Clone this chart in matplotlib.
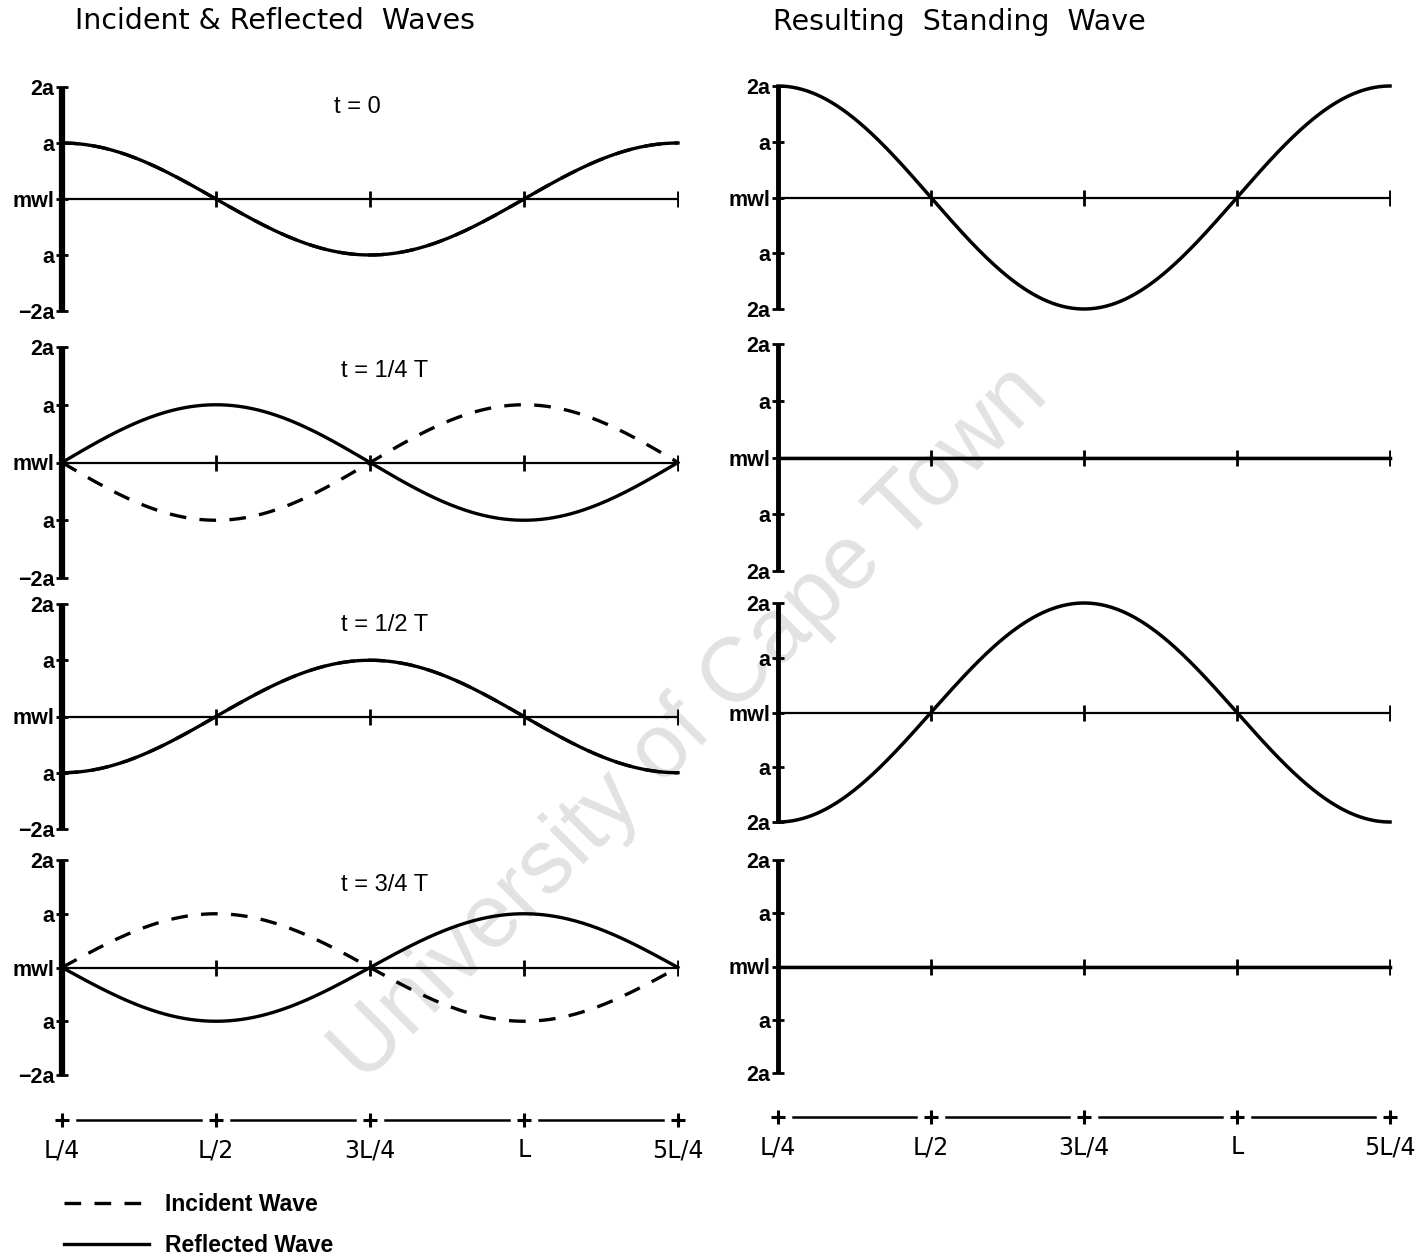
import numpy as np
import matplotlib
matplotlib.use("Agg")
import matplotlib.pyplot as plt

plt.rcParams['font.family'] = ['Liberation Sans', 'DejaVu Sans']

# ---------------- data ----------------
x_ticks = [0.25, 0.5, 0.75, 1.0, 1.25]          # in units of wavelength L
x_labels = ['L/4', 'L/2', '3L/4', 'L', '5L/4']
times = [0.0, 0.25, 0.5, 0.75]                    # fraction of period T
time_labels = ['t = 0', 't = 1/4 T', 't = 1/2 T', 't = 3/4 T']
amplitude = 1.0                                   # a
y_ticks = [2, 1, 0, -1, -2]
y_labels_left = ['2a', 'a', 'mwl', 'a', '\u22122a']
y_labels_right = ['2a', 'a', 'mwl', 'a', '2a']
titles = ['Incident & Reflected  Waves', 'Resulting  Standing  Wave']
legend_labels = ['Incident Wave', 'Reflected Wave']

# ---------------- figure ----------------
W, H = 1425, 1257
fig = plt.figure(figsize=(W / 100, H / 100), dpi=100)
fig.patch.set_facecolor('white')


def rect(left, right, top, bottom):
    return [left / W, 1 - bottom / H, (right - left) / W, (bottom - top) / H]


cols = [(62, 678), (778, 1390)]
rows_left = [(87, 311), (347, 578), (604, 829), (860, 1075)]
rows_right = [(86, 309), (344, 571), (603, 822), (860, 1073)]
label_pos = [(0.48, 0.91), (0.523, 0.896), (0.523, 0.907), (0.523, 0.884)]

x = np.linspace(x_ticks[0], x_ticks[-1], 500)
theta = 2 * np.pi * (x - x_ticks[0])

dash = (0, (5.0, 4.0))
handles = []


def style_axes(ax, labels, spine_lw):
    ax.set_xlim(x_ticks[0], x_ticks[-1])
    ax.set_ylim(-2, 2)
    ax.set_facecolor('none')
    for s in ['top', 'right', 'bottom']:
        ax.spines[s].set_visible(False)
    ax.spines['left'].set_linewidth(spine_lw)
    ax.spines['left'].set_capstyle('butt')
    ax.set_xticks([])
    ax.set_yticks(y_ticks)
    ax.set_yticklabels(labels, fontsize=15.5, fontweight='bold')
    ax.tick_params(axis='y', direction='inout', length=9, width=2, pad=1)
    ax.axhline(0, color='black', lw=1.6, zorder=2)
    ax.plot(x_ticks[1:], np.zeros(len(x_ticks) - 1), ls='none', marker='|',
            ms=11, mew=2, color='black', zorder=3)


for i, t in enumerate(times):
    inc = np.round(amplitude * np.cos(theta + 2 * np.pi * t), 10)
    ref = np.round(amplitude * np.cos(theta - 2 * np.pi * t), 10)
    std = inc + ref

    # left: incident & reflected
    lt, lb = rows_left[i]
    axl = fig.add_axes(rect(cols[0][0], cols[0][1], lt, lb))
    style_axes(axl, y_labels_left, 4.5)
    li, = axl.plot(x, inc, color='black', lw=2.4, ls=dash, zorder=4,
                   clip_on=False, label=legend_labels[0])
    lr, = axl.plot(x, ref, color='black', lw=2.4, zorder=5,
                   clip_on=False, label=legend_labels[1])
    if i == 1:
        handles = [li, lr]
    axl.text(label_pos[i][0], label_pos[i][1], time_labels[i],
             transform=axl.transAxes, ha='center', va='center', fontsize=17)

    # right: standing wave
    rt, rb = rows_right[i]
    axr = fig.add_axes(rect(cols[1][0], cols[1][1], rt, rb))
    style_axes(axr, y_labels_right, 3.5)
    axr.plot(x, std, color='black', lw=2.5, zorder=5, clip_on=False)

# bottom x axes
for (cl, cr), yb in zip(cols, [1120, 1117]):
    axb = fig.add_axes(rect(cl, cr, yb - 10, yb + 10))
    axb.set_xlim(x_ticks[0], x_ticks[-1])
    axb.set_ylim(-1, 1)
    axb.set_facecolor('none')
    for s in axb.spines.values():
        s.set_visible(False)
    axb.set_yticks([])
    axb.plot(x_ticks, np.zeros(len(x_ticks)), ls='none', marker='+', ms=10,
             mew=2.2, color='black', clip_on=False)
    gap = 0.024
    for a, b in zip(x_ticks[:-1], x_ticks[1:]):
        axb.plot([a + gap, b - gap], [0, 0], color='black', lw=1.8)
    axb.set_xticks(x_ticks)
    axb.set_xticklabels(x_labels, fontsize=17, family='DejaVu Sans')
    axb.tick_params(axis='x', length=0, pad=6)

# titles
fig.text(75 / W, 1 - 21 / H, titles[0], ha='left', va='center', fontsize=20.5,
         family='DejaVu Sans')
fig.text(773 / W, 1 - 22 / H, titles[1], ha='left', va='center', fontsize=20.5,
         family='DejaVu Sans')

# legend
fig.legend(handles, legend_labels, loc='upper left',
           bbox_to_anchor=(64 / W, 1 - 1193 / H), frameon=False,
           borderpad=0, borderaxespad=0, handlelength=3.7, handletextpad=0.7,
           labelspacing=0.8, prop={'size': 16.5, 'weight': 'bold'})

# watermark
fig.text(690 / W, 1 - 724 / H, 'University of Cape Town', rotation=45,
         rotation_mode='anchor', ha='center', va='center', fontsize=65,
         color='#e2e2e2', zorder=-1)

fig.savefig('out.png', dpi=100, facecolor='white')
